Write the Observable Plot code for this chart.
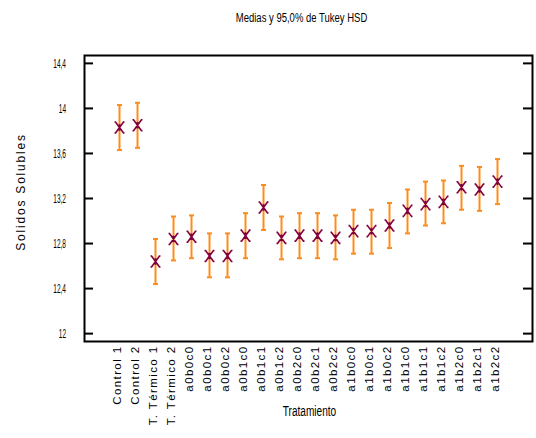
<!DOCTYPE html>
<html>
<head>
<meta charset="utf-8">
<script src="https://cdn.jsdelivr.net/npm/d3@7"></script>
<script src="https://cdn.jsdelivr.net/npm/@observablehq/plot@0.6"></script>
<style>
  html, body { margin: 0; padding: 0; background: #fff; }
  #chart { width: 536px; height: 438px; overflow: hidden; }
  #chart svg text { font-family: 'Liberation Sans', Arial, sans-serif; }
  #chart g[aria-label="x-axis tick label"] text { letter-spacing: 1.4px; }
</style>
</head>
<body>
<div id="chart"></div>
<script>
const titleText = "Medias y 95,0% de Tukey HSD";
const xLabel = "Tratamiento";
const yLabel = "Solidos Solubles";

const categories = ["Control 1","Control 2","T. Térmico 1","T. Térmico 2",
  "a0b0c0","a0b0c1","a0b0c2","a0b1c0","a0b1c1","a0b1c2",
  "a0b2c0","a0b2c1","a0b2c2","a1b0c0","a1b0c1","a1b0c2",
  "a1b1c0","a1b1c1","a1b1c2","a1b2c0","a1b2c1","a1b2c2"];
const means = [13.83,13.85,12.64,12.84,12.86,12.69,12.69,12.87,13.12,12.85,
  12.87,12.87,12.85,12.91,12.91,12.96,13.09,13.15,13.17,13.30,13.28,13.35];
const lower = [13.63,13.65,12.44,12.65,12.67,12.50,12.50,12.67,12.92,12.66,
  12.67,12.67,12.66,12.71,12.71,12.76,12.89,12.96,12.98,13.10,13.09,13.15];
const upper = [14.03,14.05,12.84,13.04,13.05,12.89,12.89,13.07,13.32,13.04,
  13.07,13.07,13.05,13.10,13.10,13.16,13.28,13.35,13.36,13.49,13.48,13.55];

const yTicks = [12, 12.4, 12.8, 13.2, 13.6, 14, 14.4];
const yTickLabels = ["12","12,4","12,8","13,2","13,6","14","14,4"];

const data = categories.map((t, i) => ({t, mean: means[i], lo: lower[i], hi: upper[i]}));

const orange = "#ff8c1a";
const purple = "#800040";

const starSymbol = {
  draw(ctx, size) {
    const r = Math.sqrt(size / Math.PI);
    const w = r * 0.8, h = r * 1.1;
    ctx.moveTo(-w, -h); ctx.lineTo(w, h);
    ctx.moveTo(-w, h); ctx.lineTo(w, -h);
    ctx.moveTo(0, -h * 0.6); ctx.lineTo(0, h * 0.6);
    ctx.moveTo(-w - 1, -h); ctx.lineTo(-w + 0.5, -h);
    ctx.moveTo(w - 0.5, -h); ctx.lineTo(w + 1, -h);
    ctx.moveTo(-w - 1, h); ctx.lineTo(-w + 0.5, h);
    ctx.moveTo(w - 0.5, h); ctx.lineTo(w + 1, h);
  }
};
const capSymbol = {
  draw(ctx, size) {
    const r = Math.sqrt(size / Math.PI);
    ctx.moveTo(-r, 0); ctx.lineTo(r, 0);
  }
};

const fmt = d => yTickLabels[yTicks.indexOf(d)];

const chart = Plot.plot({
  width: 536,
  height: 438,
  marginTop: 55,
  marginLeft: 84,
  marginRight: 4,
  marginBottom: 97,
  style: {background: "#fff", overflow: "visible"},
  x: {type: "point", domain: categories, padding: 1.73},
  y: {domain: [11.93, 14.47]},
  marks: [
    Plot.frame({stroke: "#000", strokeWidth: 2}),
    Plot.tickY(yTicks, {y: d => d, insetRight: 439, stroke: "#000", strokeWidth: 2}),
    Plot.tickY(yTicks, {y: d => d, insetLeft: 439, stroke: "#000", strokeWidth: 2}),
    Plot.axisY({ticks: yTicks, tickSize: 0, tickPadding: 18.5, tickFormat: fmt, fontSize: 13, label: null}),
    Plot.axisX({tickSize: 0, tickRotate: -90, tickPadding: 4, dx: -2.5, fontSize: 11.5, label: null}),
    Plot.ruleX(data, {x: "t", y1: "lo", y2: "hi", stroke: orange, strokeWidth: 2}),
    Plot.dot(data, {x: "t", y: "hi", r: 2.5, symbol: capSymbol, stroke: orange, strokeWidth: 2, fill: "none"}),
    Plot.dot(data, {x: "t", y: "lo", r: 2.5, symbol: capSymbol, stroke: orange, strokeWidth: 2, fill: "none"}),
    Plot.dot(data, {x: "t", y: "mean", r: 5, symbol: starSymbol, stroke: purple, strokeWidth: 1.6, fill: "none"}),
    Plot.text([titleText], {frameAnchor: "top", lineAnchor: "middle", textAnchor: "middle", dy: -38, dx: -7,
      fontSize: 12.5, fill: "#000"}),
    Plot.text([xLabel], {frameAnchor: "bottom", lineAnchor: "middle", textAnchor: "middle", dy: 70, dx: 1,
      fontSize: 14, fill: "#000"}),
    Plot.text([yLabel], {frameAnchor: "left", lineAnchor: "middle", textAnchor: "middle", dx: -63, dy: -6.5, rotate: -90,
      fontSize: 12, fill: "#000"})
  ]
});
document.getElementById("chart").appendChild(chart);

// condensed / spaced typography like the original
const svg = d3.select(chart);
function squeeze(sel, ratio) {
  sel.each(function() {
    const w = this.getComputedTextLength();
    this.setAttribute("textLength", (w * ratio).toFixed(1));
    this.setAttribute("lengthAdjust", "spacingAndGlyphs");
  });
}
const byText = s => svg.selectAll("text").filter(function() { return this.textContent === s; });
squeeze(svg.selectAll('g[aria-label="y-axis tick label"] text'), 0.5);
squeeze(byText(titleText), 0.76);
squeeze(byText(xLabel), 0.72);
byText(yLabel).style("letter-spacing", "1.8px");
</script>
</body>
</html>
